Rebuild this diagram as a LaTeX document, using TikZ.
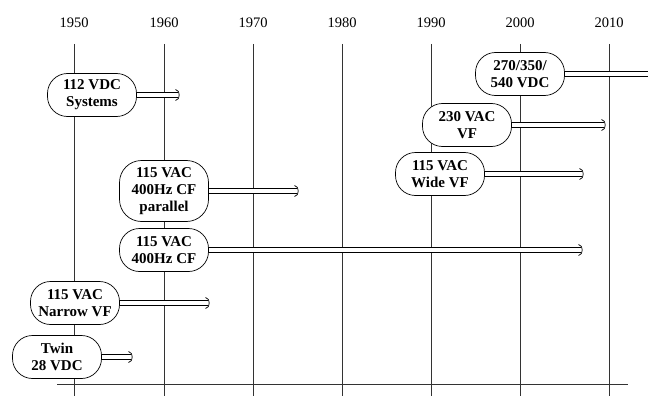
\documentclass[tikz,border=0pt]{standalone}
\usepackage{fontspec}
\setmainfont{Liberation Serif}
\usetikzlibrary{backgrounds,calc}
\newcommand{\eraline}[2]{%
  \fill[white] ($(#1.center)+(0,-2.6)$) rectangle ($(#2)+(0,2.6)$);
  \draw[arrline] ($(#1.center)+(0,-2.6)$) -- ($(#2)+(0,-2.6)$);
  \draw[arrline] ($(#1.center)+(0,2.6)$) -- ($(#2)+(0,2.6)$);}
\newcommand{\eraarr}[2]{%
  \eraline{#1}{#2}
  \draw[arrline] ($(#2)+(-2.5,-5.5)$) .. controls ($(#2)+(0.5,-4)$) .. ($(#2)+(1.2,0)$)
     .. controls ($(#2)+(0.5,4)$) .. ($(#2)+(-2.5,5.5)$);}
\begin{document}
\begin{tikzpicture}[x=1pt,y=-1pt,
  era/.style={draw,line width=0.7pt,fill=white,rounded corners=20pt,
    minimum width=89pt,minimum height=43pt,inner sep=1pt,align=center,
    font=\bfseries\fontsize{15}{17}\selectfont},
  year/.style={font=\fontsize{14.5}{16}\selectfont},
  grid/.style={draw=black!80,line width=0.8pt},
  arrline/.style={draw=black,line width=0.7pt}]
\useasboundingbox (0,0) rectangle (648,396);
% years
\foreach \yr/\x in {1950/74,1960/164,1970/253,1980/342,1990/431,2000/520,2010/609}{
  \node[year] (y\yr) at (\x,23) {\yr};
  \coordinate (t\yr) at (\x,44);
  \coordinate (b\yr) at (\x,396);
}
\coordinate (axl) at (57,384);
\coordinate (axr) at (628,384);
% nodes
\node[era] (dc112) at (92,95) {112 VDC\\Systems};
\node[era,minimum height=61pt,rounded corners=22pt] (par) at (164,191) {115 VAC\\400Hz CF\\parallel};
\node[era] (cf) at (164,250) {115 VAC\\400Hz CF};
\node[era] (nvf) at (75,303) {115 VAC\\Narrow VF};
\node[era] (twin) at (57,357) {Twin\\28 VDC};
\node[era] (hv) at (520,74) {270/350/\\540 VDC};
\node[era] (vf230) at (467,125) {230 VAC\\VF};
\node[era] (wvf) at (440,174) {115 VAC\\Wide VF};
\coordinate (e1) at (178,95);
\coordinate (e2) at (297,191);
\coordinate (e3) at (581,250);
\coordinate (e4) at (208,303);
\coordinate (e5) at (131,357);
\coordinate (e6) at (652,74);
\coordinate (e7) at (604,125);
\coordinate (e8) at (582,174);
\begin{pgfonlayer}{background}
  \foreach \yr in {1950,1960,1970,1980,1990,2000,2010}{
    \draw[grid] (t\yr) -- (b\yr);
  }
  \draw[grid] (axl) -- (axr);
  \eraarr{dc112}{e1}
  \eraarr{par}{e2}
  \eraarr{cf}{e3}
  \eraarr{nvf}{e4}
  \eraarr{twin}{e5}
  \eraline{hv}{e6}
  \eraarr{vf230}{e7}
  \eraarr{wvf}{e8}
\end{pgfonlayer}
\end{tikzpicture}
\end{document}
